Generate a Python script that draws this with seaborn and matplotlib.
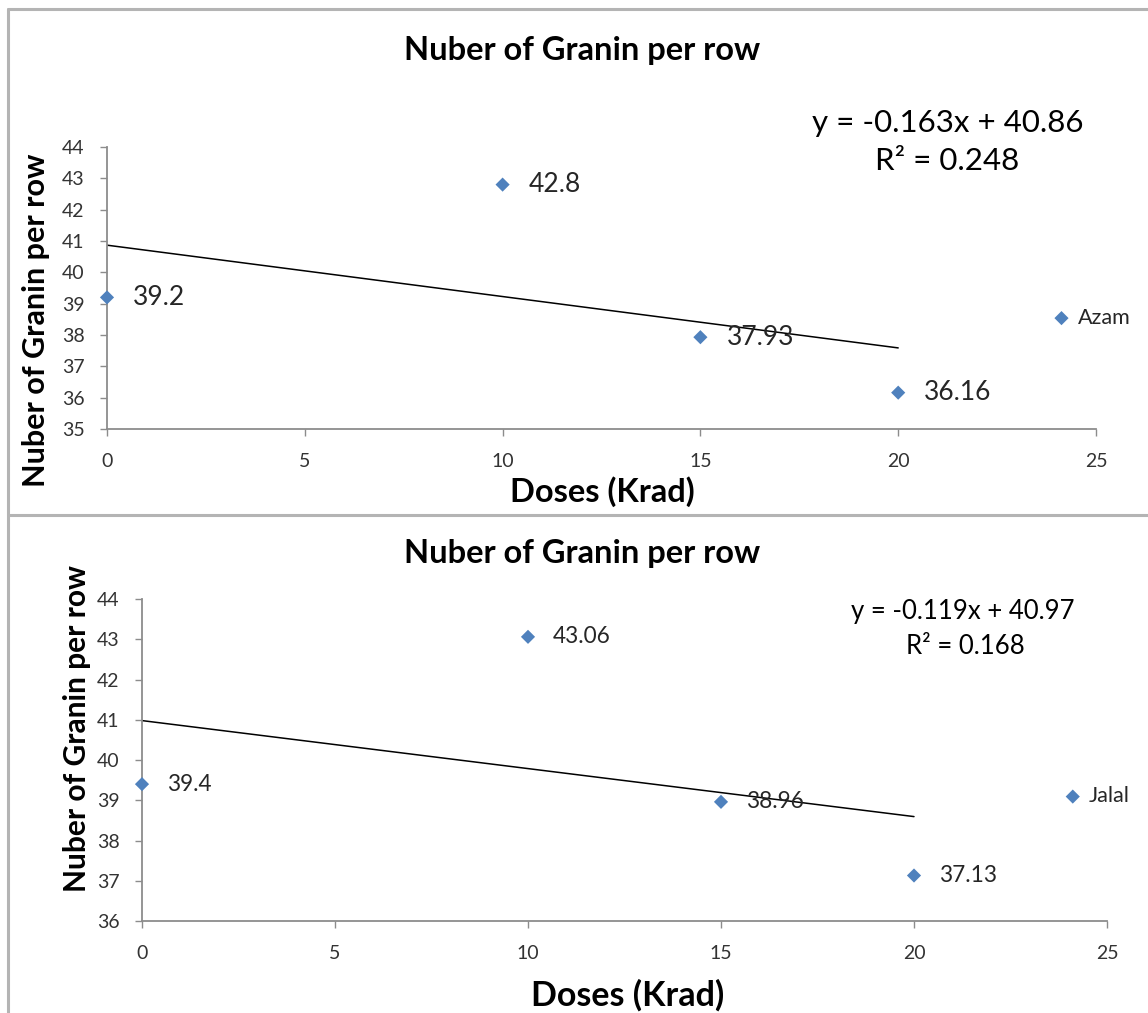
import numpy as np
import pandas as pd
import matplotlib
matplotlib.use("Agg")
import matplotlib.pyplot as plt
import seaborn as sns
from matplotlib.lines import Line2D

# Grain counts per row for two varieties at four irradiation doses
doses = [0, 10, 15, 20]
azam_grains = [39.2, 42.8, 37.93, 36.16]
jalal_grains = [39.4, 43.06, 38.96, 37.13]

x_ticks = [0, 5, 10, 15, 20, 25]
azam_y_ticks = list(range(35, 45))
jalal_y_ticks = list(range(36, 45))

azam_eq = ["y = -0.163x + 40.86", "R² = 0.248"]
jalal_eq = ["y = -0.119x + 40.97", "R² = 0.168"]

chart_title = "Nuber of Granin per row"
x_title = "Doses (Krad)"
y_title = "Nuber of Granin per row"

sns.set_theme(style="white")
plt.rcParams["font.family"] = ["Lato", "DejaVu Sans"]

W, H = 1148, 1013
fig = plt.figure(figsize=(W / 100, H / 100), dpi=100)

MARKER = "#4F81BD"
AXIS = "#8C8C8C"
TEXT = "#262626"


def draw_panel(box, values, name, yticks, eq, s):
    L, T, R, B = box
    ax = fig.add_axes([L / W, 1 - B / H, (R - L) / W, (B - T) / H])

    def frac(px, py):
        return (px - L) / (R - L), (B - py) / (B - T)

    df = pd.DataFrame({"dose": doses, "grains": values})
    sns.regplot(data=df, x="dose", y="grains", scatter=False, ci=None,
                truncate=True, color="black",
                line_kws=dict(lw=1.1, color="black"), ax=ax)
    sns.scatterplot(data=df, x="dose", y="grains", marker="D", s=s["marker"],
                    color=MARKER, edgecolor="none", label=name, ax=ax,
                    clip_on=False, zorder=3)

    for xv, yv in zip(doses, values):
        ax.annotate(f"{yv:g}", (xv, yv), xytext=(s["lab_dx"], 0),
                    textcoords="offset pixels", va="center", ha="left",
                    fontsize=s["lab_fs"], color=TEXT)

    ax.set_xlim(x_ticks[0], x_ticks[-1])
    ax.set_ylim(yticks[0], yticks[-1])
    ax.set_xticks(x_ticks)
    ax.set_yticks(yticks)

    sns.despine(ax=ax)
    for sp in ("left", "bottom"):
        ax.spines[sp].set_color(AXIS)
        ax.spines[sp].set_linewidth(1.3)
    ax.tick_params(axis="both", direction="out", length=5, width=1,
                   color=AXIS, labelcolor="#333333",
                   labelsize=s["tick_fs"], bottom=True, left=True)
    ax.tick_params(axis="x", pad=s["xpad"])
    ax.tick_params(axis="y", pad=s["ypad"])

    tx, ty = frac(*s["title_pos"])
    ax.text(tx, ty, chart_title, transform=ax.transAxes, ha="center",
            va="center", fontsize=s["title_fs"], fontweight="bold",
            color="black")

    ax.set_xlabel(x_title, fontsize=s["xlab_fs"], fontweight="bold",
                  color="black", va="center")
    ax.xaxis.set_label_coords(*frac(*s["xlab_pos"]))
    ax.set_ylabel(y_title, fontsize=s["ylab_fs"], fontweight="bold",
                  color="black", va="center")
    ax.yaxis.set_label_coords(*frac(*s["ylab_pos"]))

    for line, pos in zip(eq, s["eq_pos"]):
        ex, ey = frac(*pos)
        ax.text(ex, ey, line, transform=ax.transAxes, ha="center",
                va="center", fontsize=s["eq_fs"], color="black")

    ax.legend(loc="center left", bbox_to_anchor=s["leg_anchor"],
              bbox_transform=ax.transData, frameon=False, handlelength=0.8,
              handletextpad=0.35, borderpad=0, borderaxespad=0,
              fontsize=s["leg_fs"], labelcolor=TEXT)
    return ax


top_style = dict(marker=52, lab_dx=26, lab_fs=19, tick_fs=14, xpad=12,
                 ypad=11, title_fs=23.5, title_pos=(582, 50), xlab_fs=23.5,
                 xlab_pos=(602, 492), ylab_fs=22, ylab_pos=(36, 320),
                 eq_fs=22.5, eq_pos=[(948, 123), (947, 161)],
                 leg_anchor=(23.91, 38.55), leg_fs=15.5)
bottom_style = dict(marker=52, lab_dx=25, lab_fs=16.3, tick_fs=14, xpad=12,
                    ypad=11, title_fs=23.5, title_pos=(582, 553),
                    xlab_fs=24.5, xlab_pos=(628, 995), ylab_fs=21.5,
                    ylab_pos=(77, 728), eq_fs=18.5,
                    eq_pos=[(963, 611), (965, 646)],
                    leg_anchor=(23.89, 39.1), leg_fs=15.5)

draw_panel((107, 147, 1096, 429), azam_grains, "Azam", azam_y_ticks, azam_eq,
           top_style)
draw_panel((142, 599, 1107, 921), jalal_grains, "Jalal", jalal_y_ticks,
           jalal_eq, bottom_style)

# Chart frames
frame = dict(transform=fig.transFigure, color="#B4B4B4", lw=2.2)
fig.add_artist(Line2D([8 / W, 1], [1 - 9 / H, 1 - 9 / H], **frame))
fig.add_artist(Line2D([8 / W, 8 / W], [1 - 9 / H, 0], **frame))
fig.add_artist(Line2D([8 / W, 1], [1 - 515 / H, 1 - 515 / H], **frame))

fig.savefig("out.png", dpi=100)
